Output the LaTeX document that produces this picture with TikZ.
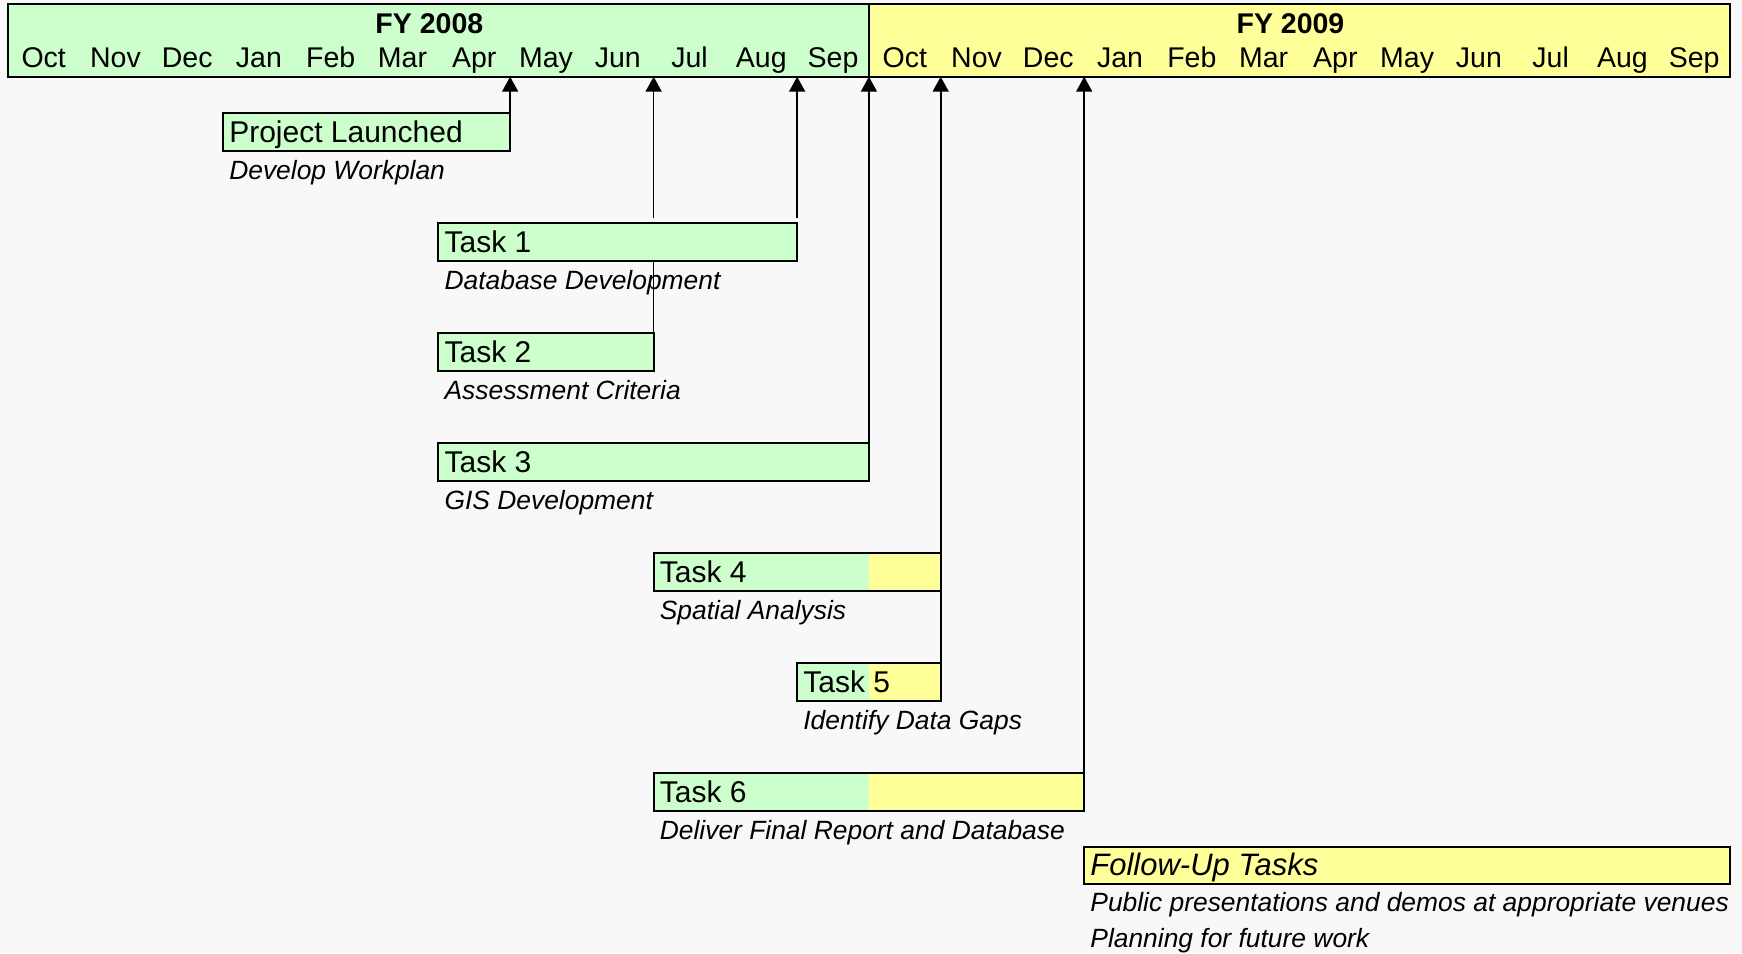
\documentclass[tikz,border=0pt]{standalone}
\usepackage{fontspec}
\setmainfont{Liberation Sans}
\usetikzlibrary{arrows.meta,fit}
\definecolor{bgc}{HTML}{F8F8F8}
\definecolor{grn}{HTML}{CCFFCC}
\definecolor{yel}{HTML}{FFFF99}
\pgfdeclarelayer{back}
\pgfdeclarelayer{lines}
\pgfsetlayers{back,lines,main}
\tikzset{
  frame/.style={draw=black, line width=2pt, inner sep=0pt, outer sep=0pt},
  hdrtext/.style={anchor=base, inner sep=0pt, font=\fontsize{28.5}{32}\selectfont},
  fytext/.style={anchor=base, inner sep=0pt, font=\bfseries\fontsize{28.5}{32}\selectfont},
  tasktext/.style={anchor=base west, inner sep=0pt, font=\fontsize{30}{35}\selectfont},
  desctext/.style={anchor=base west, inner sep=0pt, font=\itshape\fontsize{26.4}{31}\selectfont},
  plain/.style={draw=black, line width=1.7pt},
  conn/.style={plain, -{Triangle[length=15pt,width=16pt]}},
}
\begin{document}
\begin{tikzpicture}[x=71.76pt,y=-1pt]
\begin{pgfonlayer}{back}
  \fill[bgc] (0pt,0pt) rectangle (1742pt,-953pt);
\end{pgfonlayer}
\useasboundingbox (0pt,0pt) rectangle (1742pt,-953pt);
\begin{scope}[xshift=7.8pt]
  % header
  \node[frame, fill=grn, fit={(0,4.4) (12,76.7)}] (h08) {};
  \node[frame, fill=yel, fit={(12,4.4) (24,76.7)}] (h09) {};
  \node[fytext] (fy08) at ([xshift=-9pt]6,33) {FY 2008};
  \node[fytext] (fy09) at ([xshift=-9pt]18,33) {FY 2009};
  \foreach \m [count=\i from 0] in {Oct,Nov,Dec,Jan,Feb,Mar,Apr,May,Jun,Jul,Aug,Sep,Oct,Nov,Dec,Jan,Feb,Mar,Apr,May,Jun,Jul,Aug,Sep}
    \node[hdrtext] (m\i) at (\i+0.5,67) {\m};

  % Project Launched
  \node[frame, fill=grn, fit={(3,113.3) (7,151)}] (pl) {};
  \node[tasktext] (plt) at ([xshift=6pt]3,142.5) {Project Launched};
  \node[desctext] (pld) at ([xshift=6pt]3,179.3) {Develop Workplan};

  % Task 1
  \node[frame, fill=grn, fit={(6,223.3) (11,261)}] (t1) {};
  \node[tasktext] (t1t) at ([xshift=6pt]6,252.5) {Task 1};
  \node[desctext] (t1d) at ([xshift=6pt]6,289.3) {Database Development};

  % Task 2
  \node[frame, fill=grn, fit={(6,333.3) (9,371)}] (t2) {};
  \node[tasktext] (t2t) at ([xshift=6pt]6,362.5) {Task 2};
  \node[desctext] (t2d) at ([xshift=6pt]6,399.3) {Assessment Criteria};

  % Task 3
  \node[frame, fill=grn, fit={(6,443.3) (12,481)}] (t3) {};
  \node[tasktext] (t3t) at ([xshift=6pt]6,472.5) {Task 3};
  \node[desctext] (t3d) at ([xshift=6pt]6,509.3) {GIS Development};

  % Task 4
  \fill[grn] (9,553.3) rectangle (12,591);
  \fill[yel] (12,553.3) rectangle (13,591);
  \node[frame, fit={(9,553.3) (13,591)}] (t4) {};
  \node[tasktext] (t4t) at ([xshift=6pt]9,582.5) {Task 4};
  \node[desctext] (t4d) at ([xshift=6pt]9,619.3) {Spatial Analysis};

  % Task 5
  \fill[grn] (11,663.3) rectangle (12,701);
  \fill[yel] (12,663.3) rectangle (13,701);
  \node[frame, fit={(11,663.3) (13,701)}] (t5) {};
  \node[tasktext] (t5t) at ([xshift=6pt]11,692.5) {Task 5};
  \node[desctext] (t5d) at ([xshift=6pt]11,729.3) {Identify Data Gaps};

  % Task 6
  \fill[grn] (9,773.3) rectangle (12,811);
  \fill[yel] (12,773.3) rectangle (15,811);
  \node[frame, fit={(9,773.3) (15,811)}] (t6) {};
  \node[tasktext] (t6t) at ([xshift=6pt]9,802.5) {Task 6};
  \node[desctext] (t6d) at ([xshift=6pt]9,839.3) {Deliver Final Report and Database};

  % Follow-up
  \node[frame, fill=yel, fit={(15,846.6) (24,884.3)}] (fu) {};
  \node[tasktext, font=\itshape\fontsize{31}{36}\selectfont] (fut) at ([xshift=6pt]15,875.5) {Follow-Up Tasks};
  \node[desctext] (fud1) at ([xshift=6pt]15,911.5) {Public presentations and demos at appropriate venues};
  \node[desctext] (fud2) at ([xshift=6pt]15,947.5) {Planning for future work};

  % connectors
  \begin{pgfonlayer}{lines}
    \draw[conn] (pl.north east) -- (pl.north east |- h08.south);
    \draw[plain] (t2.north east) -- (t2.north east |- t1.south);
    \draw[conn, shorten <=5pt] (t2.north east |- t1.north) -- (t2.north east |- h08.south);
    \draw[conn, shorten <=5pt] (t1.north east) -- (t1.north east |- h08.south);
    \draw[conn] (t3.north east) -- (t3.north east |- h08.south);
    \draw[conn] (t5.north east) -- (t5.north east |- h09.south);
    \draw[conn] (t6.north east) -- (t6.north east |- h09.south);
  \end{pgfonlayer}
\end{scope}
\end{tikzpicture}
\end{document}
